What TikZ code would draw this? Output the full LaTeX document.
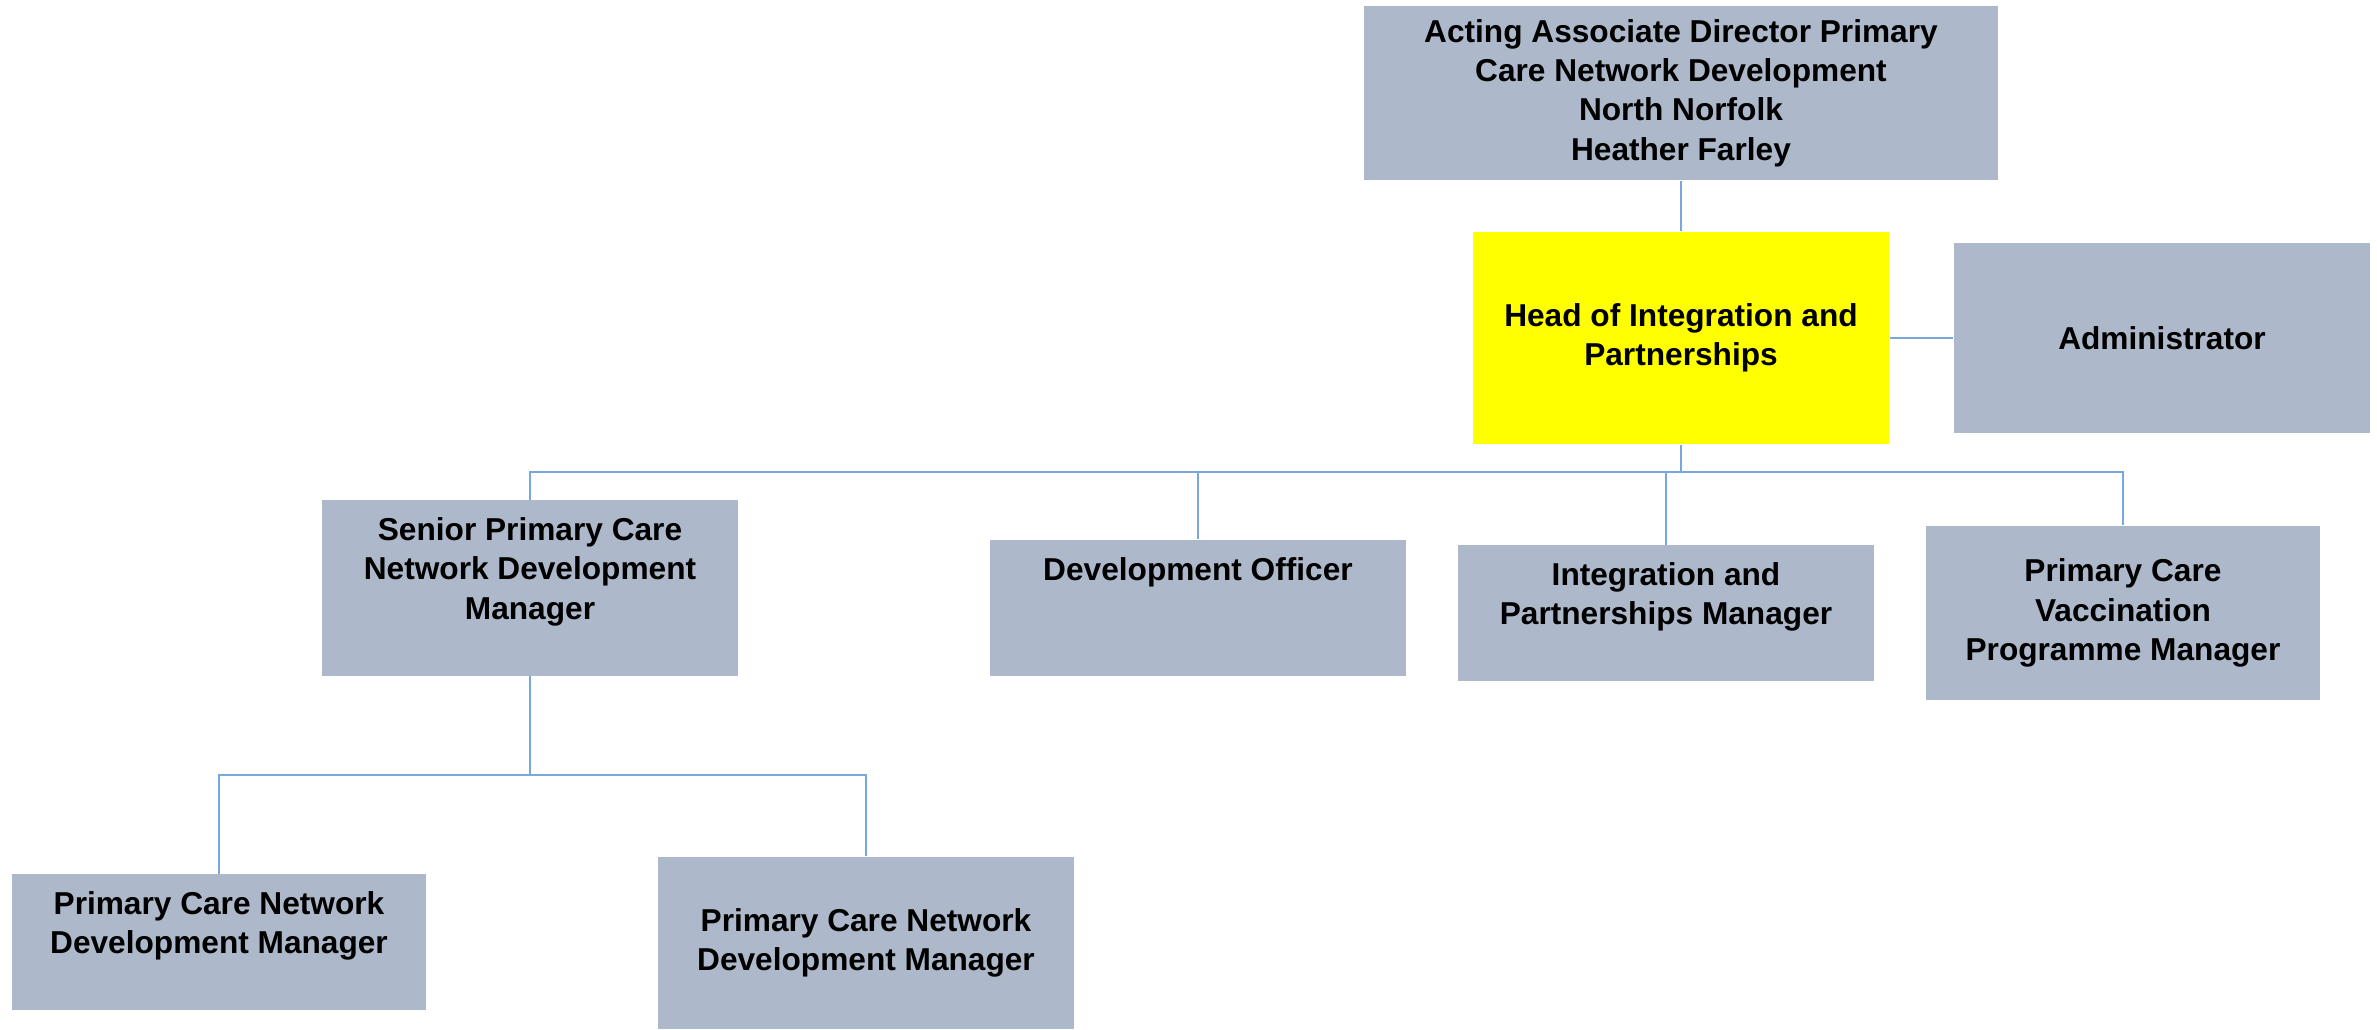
\documentclass[tikz,border=0pt]{standalone}
\usepackage{fontspec}
\setmainfont{Liberation Sans}
\usepackage{tikz}
\usepackage{xcolor}
\definecolor{boxgrey}{RGB}{173,185,202}
\definecolor{linkblue}{RGB}{120,168,220}
\definecolor{headyellow}{RGB}{255,255,0}

\begin{document}
\begin{tikzpicture}[x=0.01cm,y=-0.01cm,
	post/.style={fill=boxgrey, inner sep=0pt, align=center,
		font=\fontsize{9}{11.2}\selectfont\bfseries},
	link/.style={draw=linkblue, line width=0.6pt}]
	\useasboundingbox (0,0) rectangle (2377,1029);
	% posts
	\node [post, minimum width=6.34cm, minimum height=1.74cm] (top) at (1681,93) {Acting Associate Director Primary\\Care Network Development\\North Norfolk\\Heather Farley};
	\node [post, fill=headyellow, minimum width=4.16cm, minimum height=2.12cm] (head) at (1681,338) {Head of Integration and\\Partnerships};
	\node [post, minimum width=4.16cm, minimum height=1.90cm] (admin) at (2162,338) {Administrator};
	\node [post, minimum width=4.15cm, minimum height=1.75cm] (senior) at (530,588) {Senior Primary Care\\Network Development\\Manager\\\mbox{}};
	\node [post, minimum width=4.15cm, minimum height=1.36cm] (devoff) at (1198,608) {Development Officer\\\mbox{}\\\mbox{}};
	\node [post, minimum width=4.16cm, minimum height=1.35cm] (integ) at (1666,613) {Integration and\\Partnerships Manager\\\mbox{}};
	\node [post, minimum width=3.93cm, minimum height=1.74cm] (vacc) at (2123,613) {Primary Care\\Vaccination\\Programme Manager};
	\node [post, minimum width=4.14cm, minimum height=1.35cm] (pcna) at (219,942) {Primary Care Network\\Development Manager\\\mbox{}};
	\node [post, minimum width=4.15cm, minimum height=1.72cm] (pcnb) at (866,943) {Primary Care Network\\Development Manager};
	% connectors
	\coordinate (bus) at (1681,472);
	\coordinate (subbus) at (530,775);
	\draw [link] (top) -- (head);
	\draw [link] (head) -- (admin);
	\draw [link] (head) -- (bus);
	\draw [link] (senior) |- (bus);
	\draw [link] (devoff) |- (bus);
	\draw [link] (integ) |- (bus);
	\draw [link] (vacc) |- (bus);
	\draw [link] (senior) -- (subbus);
	\draw [link] (pcna) |- (subbus);
	\draw [link] (pcnb) |- (subbus);
\end{tikzpicture}
\end{document}
